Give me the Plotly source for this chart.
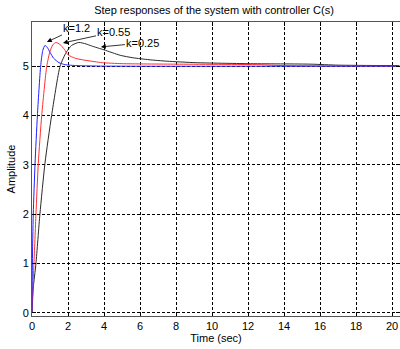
import plotly.graph_objects as go

# Step responses of the closed loop for three controller gains
t_k120 = [0, 0.02, 0.07, 0.17, 0.30, 0.48, 0.60, 0.72, 0.85, 1.00, 1.20, 1.50, 1.83, 2.50, 4.0, 20.4]
y_k120 = [0, 1.00, 2.00, 3.03, 4.00, 5.00, 5.32, 5.42, 5.38, 5.28, 5.16, 5.07, 5.03, 5.01, 5.0, 5.0]

t_k055 = [0, 0.06, 0.11, 0.22, 0.35, 0.54, 0.82, 1.00, 1.15, 1.33, 1.55, 1.80, 2.00, 2.40, 2.94, 3.50, 3.90, 5.0, 8.0, 12.6, 14.0, 20.4]
y_k055 = [0, 0.60, 1.00, 2.00, 3.03, 4.00, 5.00, 5.30, 5.43, 5.48, 5.44, 5.34, 5.23, 5.16, 5.12, 5.09, 5.07, 5.05, 5.04, 5.03, 5.01, 5.0]

t_k025 = [0, 0.07, 0.22, 0.44, 0.72, 1.09, 1.56, 1.90, 2.20, 2.60, 3.00, 3.30, 4.00, 4.90, 5.60, 6.50, 7.50, 9.10, 12.0, 15.5, 17.0, 20.4]
y_k025 = [0, 0.50, 1.00, 2.00, 3.03, 4.00, 5.00, 5.28, 5.42, 5.48, 5.45, 5.41, 5.33, 5.22, 5.17, 5.13, 5.10, 5.07, 5.05, 5.04, 5.02, 5.01]

x_ticks = [0, 2, 4, 6, 8, 10, 12, 14, 16, 18, 20]
y_ticks = [0, 1, 2, 3, 4, 5]

labels = ["k=1.2", "k=0.55", "k=0.25"]

FONT = "Liberation Sans, Arial, sans-serif"

fig = go.Figure()
fig.add_trace(go.Scatter(x=t_k025, y=y_k025, mode="lines", line=dict(color="#2a2a2a", width=1, shape="spline", smoothing=0.6)))
fig.add_trace(go.Scatter(x=t_k055, y=y_k055, mode="lines", line=dict(color="#ff3030", width=1, shape="spline", smoothing=0.6)))
fig.add_trace(go.Scatter(x=t_k120, y=y_k120, mode="lines", line=dict(color="#2020ff", width=1, shape="spline", smoothing=0.6)))

# arrow heads point at the curves near their overshoot
arrow_specs = [
    (labels[0], 0.83, 5.49, 30, -14),
    (labels[1], 1.72, 5.47, 51, -11),
    (labels[2], 3.83, 5.39, 42, -4),
]
for text, xh, yh, ax, ay in arrow_specs:
    fig.add_annotation(
        x=xh, y=yh, text=text, showarrow=True, ax=ax, ay=ay,
        arrowhead=2, arrowsize=1.2, arrowwidth=0.8, arrowcolor="black",
        font=dict(family=FONT, size=11, color="black"), standoff=0, startstandoff=0,
    )

axis_common = dict(
    showgrid=True, gridcolor="black", griddash="3px,2px", gridwidth=1,
    showline=True, linecolor="#555", linewidth=1, mirror="ticks",
    ticks="inside", ticklen=4, tickcolor="black",
    zeroline=False, tickfont=dict(family=FONT, size=11, color="black"),
)

fig.update_xaxes(range=[0, 20.44], tickvals=x_ticks,
                 title=dict(text="Time (sec)", font=dict(family=FONT, size=11, color="black"), standoff=2),
                 **axis_common)
fig.update_yaxes(range=[-0.067, 5.895], tickvals=y_ticks,
                 title=dict(text="Amplitude", font=dict(family=FONT, size=11, color="black"), standoff=4),
                 **axis_common)

fig.update_layout(
    width=400, height=349,
    margin=dict(l=32, r=0, t=22, b=33),
    paper_bgcolor="white", plot_bgcolor="white",
    showlegend=False,
    title=dict(text="Step responses of the system with controller C(s)",
               font=dict(family=FONT, size=11, color="black"),
               x=0.535, xanchor="center", y=1 - 10 / 349, yanchor="middle", yref="container"),
)

fig.write_html("out.html")
